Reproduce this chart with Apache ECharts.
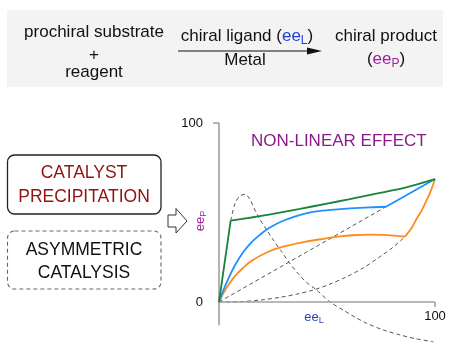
<!DOCTYPE html>
<html>
<head>
<meta charset="utf-8">
<script src="https://cdn.jsdelivr.net/npm/echarts@6/dist/echarts.min.js"></script>
<style>
html,body{margin:0;padding:0;background:#fff;}
#c{width:450px;height:356px;}
</style>
</head>
<body>
<div id="c"></div>
<script>
// ---- data (ee_L, ee_P) ----
const strongPositive = [[0,0],[5.4,45.4],[15,47.2],[25,49.2],[37.5,52],[50,55],[60,57.3],[70,59.8],[81.5,62.6],[90,65.2],[100,68.7]];
const mediumPositive = [[0,0],[2,6.5],[4.5,13.5],[7.4,20.5],[11,27.5],[15.1,33.5],[19,37.6],[22.8,41],[26.5,43.6],[30.6,45.8],[35,47.7],[39.8,49.4],[45,50.6],[52,51.5],[60.6,52.3],[70,52.9],[77.3,53.2],[100,68.7]];
const weakPositive = [[0,0],[2,4.8],[4.5,9.8],[7.4,14.5],[10.5,18.3],[15.1,23],[22.8,28.1],[30.6,31.2],[39.8,33.6],[48.3,35.3],[55,36.5],[62,37.3],[70,37.6],[78,37.4],[86.1,36.5],[89,41],[91.5,46.5],[94,51.5],[96.2,57],[98.2,62.5],[100,68.7]];
const linearRef = [[0,0],[77.3,53.2]];
const negativeRef = [[0,0],[10,0.2],[20,1.2],[28.2,2.6],[36,4.4],[43.7,6.7],[51,9.8],[59.1,14.1],[67,19.2],[74.5,25.3],[80.5,30.5],[86.1,36.5]];
const solubilityCurve = [[5.4,45.4],[7.4,55],[9.5,59],[12,60.2],[14,58],[16,53],[18.2,47.7],[22.1,40.2],[25.5,34],[29,28.1],[32.5,22],[36.7,15.8],[40.5,11],[45.2,6.7],[51.4,0],[57.5,-4.5],[63,-8.5],[68.4,-11.9],[76,-15.6],[83.8,-18.4],[91,-20.5],[99.2,-22.2]];
const xAxisLinePts = [[-3.3,0],[100,0]];
const yAxisLinePts = [[0,-13],[0,100]];
const yTickLabels = [0, 100];
const xTickLabels = [100];
// index of the kink point in each curve (where the smooth part ends)
const strongKink = 1, mediumKink = 16, weakKink = 14;

const FONT = "'Liberation Sans', Arial, sans-serif";
const chart = echarts.init(document.getElementById('c'), null, {renderer:'canvas'});

function lineSeries(data, color, width, dashed, smooth){
  return {
    type:'line', data:data, symbol:'none', clip:false, silent:true,
    smooth: smooth || false,
    lineStyle:{color:color, width:width, type: dashed ? [4,3] : 'solid'},
    z: dashed ? 2 : 3
  };
}

const subRich = function(color){
  return {
    m:{fontSize:17, fontFamily:FONT, fill:color},
    s:{fontSize:12, fontFamily:FONT, fill:color, padding:[9,0,0,0]},
    k:{fontSize:17, fontFamily:FONT, fill:'#111'}
  };
};

chart.setOption({
  animation:false,
  backgroundColor:'#fff',
  title:{
    text:'NON-LINEAR EFFECT', left:251, top:133, padding:0,
    textStyle:{color:'#8b1a8b', fontSize:17, fontWeight:'normal', fontFamily:FONT}
  },
  grid:{left:219, right:15, top:123, bottom:54},
  xAxis:{
    type:'value', min:0, max:100,
    axisLine:{show:false},
    splitLine:{show:false},
    axisTick:{show:true, customValues:xTickLabels, length:5, lineStyle:{color:'#999', width:1.5}},
    axisLabel:{customValues:xTickLabels, margin:8, fontSize:13, color:'#111', fontFamily:FONT},
    name:'{m|ee}{s|L}', nameLocation:'middle', nameGap:7, nameMoveOverlap:false,
    nameTextStyle:{padding:[0,26,0,0], rich:{
      m:{fontSize:13, fontFamily:FONT, color:'#2b3fbf'},
      s:{fontSize:9, fontFamily:FONT, color:'#2b3fbf', padding:[7,0,0,0]}
    }}
  },
  yAxis:{
    type:'value', min:0, max:100,
    axisLine:{show:false},
    splitLine:{show:false},
    axisTick:{show:true, customValues:[100], length:6, lineStyle:{color:'#999', width:1.5}},
    axisLabel:{customValues:yTickLabels, margin:16, fontSize:13, color:'#111', fontFamily:FONT},
    name:'{m|ee}{s|P}', nameLocation:'middle', nameGap:11, nameRotate:90, nameMoveOverlap:false,
    nameTextStyle:{padding:[0,17,0,0], rich:{
      m:{fontSize:13, fontFamily:FONT, color:'#a21ca2'},
      s:{fontSize:9, fontFamily:FONT, color:'#a21ca2', padding:[7,0,0,0]}
    }}
  },
  series:[
    lineSeries(xAxisLinePts, '#a0a0a0', 1.6, false),
    lineSeries(yAxisLinePts, '#a0a0a0', 1.6, false),
    lineSeries(linearRef, '#555', 1, true),
    lineSeries(negativeRef, '#555', 1, true, 0.3),
    lineSeries(solubilityCurve, '#555', 1, true, 0.3),
    lineSeries(weakPositive.slice(0, weakKink + 1), '#ff8c1a', 1.8, false, 0.3),
    lineSeries(weakPositive.slice(weakKink), '#ff8c1a', 1.8, false, 0.3),
    lineSeries(mediumPositive.slice(0, mediumKink + 1), '#1e90ff', 1.8, false, 0.3),
    lineSeries(mediumPositive.slice(mediumKink), '#1e90ff', 1.8, false),
    lineSeries(strongPositive.slice(0, strongKink + 1), '#17843a', 1.8, false),
    lineSeries(strongPositive.slice(strongKink), '#17843a', 1.8, false, 0.3)
  ],
  graphic:[
    {type:'rect', shape:{x:7, y:10, width:436, height:77}, style:{fill:'#f3f3f3'}, z:-10, silent:true},
    {type:'text', style:{text:'prochiral substrate', x:94, y:32.5, align:'center', verticalAlign:'middle', font:'17px '+FONT, fill:'#111'}},
    {type:'text', style:{text:'+', x:94, y:55, align:'center', verticalAlign:'middle', font:'17px '+FONT, fill:'#111'}},
    {type:'text', style:{text:'reagent', x:94, y:72.5, align:'center', verticalAlign:'middle', font:'17px '+FONT, fill:'#111'}},
    {type:'text', style:{text:'{k|chiral ligand (}{m|ee}{s|L}{k|)}', x:247, y:36, align:'center', verticalAlign:'middle', rich:subRich('#1f3fcf')}},
    {type:'line', shape:{x1:178, y1:51, x2:312, y2:51}, style:{stroke:'#111', lineWidth:1.2}},
    {type:'polygon', shape:{points:[[307,47.5],[322,51],[307,54.5]]}, style:{fill:'#111'}},
    {type:'text', style:{text:'Metal', x:245, y:60.7, align:'center', verticalAlign:'middle', font:'17px '+FONT, fill:'#111'}},
    {type:'text', style:{text:'chiral product', x:386, y:36.5, align:'center', verticalAlign:'middle', font:'17px '+FONT, fill:'#111'}},
    {type:'text', style:{text:'{k|(}{m|ee}{s|P}{k|)}', x:386, y:59.5, align:'center', verticalAlign:'middle', rich:subRich('#a21ca2')}},
    {type:'rect', shape:{x:7.5, y:155, width:153.5, height:59, r:7}, style:{fill:'#fff', stroke:'#222', lineWidth:1.3}},
    {type:'text', style:{text:'CATALYST\nPRECIPITATION', x:84, y:185, align:'center', verticalAlign:'middle', font:'17.5px '+FONT, lineHeight:23.6, fill:'#8f1414'}},
    {type:'rect', shape:{x:7.5, y:231, width:153.5, height:58, r:7}, style:{fill:'#fff', stroke:'#666', lineWidth:1.1, lineDash:[4,3]}},
    {type:'text', style:{text:'ASYMMETRIC\nCATALYSIS', x:84, y:262, align:'center', verticalAlign:'middle', font:'17.5px '+FONT, lineHeight:23.3, fill:'#111'}},
    {type:'polygon', shape:{points:[[168,215],[176,215],[176,208.5],[187,221],[176,233],[176,227],[168,227]]}, style:{fill:'#fff', stroke:'#333', lineWidth:1}}
  ]
});
</script>
</body>
</html>
